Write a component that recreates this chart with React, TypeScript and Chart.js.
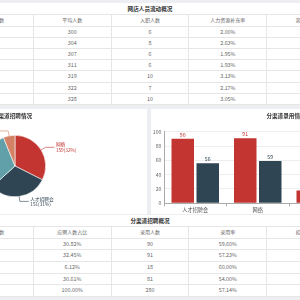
import React, { useEffect, useRef } from "react";
import { Chart, registerables } from "chart.js";

Chart.register(...registerables);

const FONT = '"Noto Sans CJK SC", "Noto Sans", sans-serif';

// ---- 网店人员流动概况 (top table) ----
const flowTitle = "网店人员流动概况";
const flowHeaders = ["月份", "期初人数", "平均人数", "入职人数", "人力资源补充率", "离职人数", "离职率"];
const flowMonths = ["1月", "2月", "3月", "4月", "5月", "6月", "7月"];
const flowStart = [297, 302, 305, 309, 314, 320, 324];
const flowAvg = [300, 304, 307, 311, 319, 322, 328];
const flowHires = [6, 8, 6, 6, 10, 7, 10];
const flowHireRate = ["2.00%", "2.63%", "1.95%", "1.93%", "3.13%", "2.17%", "3.05%"];
const flowLeaves = [4, 5, 3, 4, 5, 6, 4];
const flowLeaveRate = ["1.33%", "1.64%", "0.98%", "1.29%", "1.57%", "1.86%", "1.22%"];

// ---- 分渠道招聘概况 (bottom table) ----
const channelTitle = "分渠道招聘概况";
const channelHeaders = ["招聘渠道", "应聘人数", "应聘人数占比", "录用人数", "录用率", "招聘费用", "人均费用"];
const channelNames = ["人才招聘会", "网络", "校园招聘", "内部推荐", "合计"];
const channelApplicants = [151, 159, 30, 150, 490];
const channelShare = ["30.82%", "32.45%", "6.12%", "30.61%", "100.00%"];
const channelHired = [90, 91, 18, 81, 280];
const channelHireRate = ["59.60%", "57.23%", "60.00%", "54.00%", "57.14%"];
const channelCost = [56, 59, 10, 30, 155];
const channelCostPer = ["0.62", "0.65", "0.56", "0.37", "0.55"];

// ---- 分渠道招聘情况 (pie) ----
const pieTitle = "分渠道招聘情况";
const pieLabels = ["网络", "人才招聘会", "内部推荐", "校园招聘"];
const pieValues = [159, 151, 150, 30];

// ---- 分渠道录用情况 (bar) ----
const barTitle = "分渠道录用情况";
const barCategories = ["人才招聘会", "网络", "校园招聘", "内部推荐"];
const barSeriesNames = ["录用人数", "招聘费用"];
const barHired = [90, 91, 18, 81];
const barCost = [56, 59, 10, 30];
const yMax = 100;
const yStep = 20;

const palette = ["#c23531", "#2f4554", "#61a0a8", "#d48265"];
const BORDER = "#e6e6e6";

type TableProps = {
  title: string;
  headers: string[];
  rows: (string | number)[][];
  top: number;
  titleH: number;
  headH: number;
  rowH: number;
};

function DataTable({ title, headers, rows, top, titleH, headH, rowH }: TableProps) {
  const cell = (last: boolean, h: number, size: number, color: string): React.CSSProperties => ({
    flex: 1,
    height: h,
    lineHeight: h + "px",
    textAlign: "center",
    fontSize: size,
    color,
    borderRight: last ? "none" : `1px solid ${BORDER}`,
    boxSizing: "border-box",
    whiteSpace: "nowrap",
    overflow: "hidden",
  });
  return (
    <div style={{ position: "absolute", left: -122, top, width: 544, background: "#fff", fontFamily: FONT }}>
      <div
        style={{
          height: titleH,
          lineHeight: titleH + "px",
          textAlign: "center",
          fontWeight: "bold",
          fontSize: 5.6,
          color: "#333",
          borderBottom: `1px solid ${BORDER}`,
          boxSizing: "border-box",
        }}
      >
        {title}
      </div>
      <div style={{ display: "flex", borderBottom: `1px solid ${BORDER}`, boxSizing: "border-box", height: headH }}>
        {headers.map((h, i) => (
          <div key={i} style={cell(i === headers.length - 1, headH - 1, 5, "#666")}>
            {h}
          </div>
        ))}
      </div>
      {rows.map((r, ri) => (
        <div key={ri} style={{ display: "flex", borderBottom: `1px solid ${BORDER}`, boxSizing: "border-box", height: rowH }}>
          {r.map((v, i) => (
            <div key={i} style={cell(i === r.length - 1, rowH - 1, 5.4, "#666")}>
              {v}
            </div>
          ))}
        </div>
      ))}
    </div>
  );
}

const pieLabelPlugin = {
  id: "pieLabels",
  afterDatasetsDraw(chart: any) {
    const ctx = chart.ctx;
    const meta = chart.getDatasetMeta(0);
    const data = chart.data.datasets[0].data as number[];
    const total = data.reduce((a, b) => a + b, 0);
    meta.data.forEach((arc: any, i: number) => {
      const { x, y, startAngle, endAngle, outerRadius } = arc.getProps(
        ["x", "y", "startAngle", "endAngle", "outerRadius"],
        true
      );
      const mid = (startAngle + endAngle) / 2;
      const c = Math.cos(mid);
      const s = Math.sin(mid);
      const side = c >= 0 ? 1 : -1;
      const p1x = x + outerRadius * c;
      const p1y = y + outerRadius * s;
      const p2x = x + (outerRadius + 5) * c;
      const p2y = y + (outerRadius + 5) * s;
      const p3x = p2x + side * 9;
      const color = palette[i];
      ctx.save();
      ctx.strokeStyle = color;
      ctx.lineWidth = 0.6;
      ctx.beginPath();
      ctx.moveTo(p1x, p1y);
      ctx.lineTo(p2x, p2y);
      ctx.lineTo(p3x, p2y);
      ctx.stroke();
      ctx.fillStyle = color;
      ctx.font = `4.7px ${FONT}`;
      ctx.textAlign = side > 0 ? "left" : "right";
      ctx.textBaseline = "middle";
      const pct = Math.round((data[i] / total) * 100);
      const tx = p3x + side * 1.5;
      ctx.fillText(String(chart.data.labels[i]), tx, p2y - 2.6);
      ctx.fillText(`${data[i]}(${pct}%)`, tx, p2y + 2.6);
      ctx.restore();
    });
  },
};

const barValuePlugin = {
  id: "barValues",
  afterDatasetsDraw(chart: any) {
    const ctx = chart.ctx;
    chart.data.datasets.forEach((ds: any, di: number) => {
      const meta = chart.getDatasetMeta(di);
      meta.data.forEach((bar: any, i: number) => {
        ctx.save();
        ctx.fillStyle = palette[di];
        ctx.font = `5.2px ${FONT}`;
        ctx.textAlign = "center";
        ctx.textBaseline = "bottom";
        ctx.fillText(String(ds.data[i]), bar.x, bar.y - 1.5);
        ctx.restore();
      });
    });
  },
};

function PieChart() {
  const ref = useRef<HTMLCanvasElement>(null);
  useEffect(() => {
    const chart = new Chart(ref.current!, {
      type: "pie",
      data: {
        labels: pieLabels,
        datasets: [{ data: pieValues, backgroundColor: palette, borderColor: "#fff", borderWidth: 0.6 }],
      },
      options: {
        animation: false,
        responsive: false,
        layout: { padding: { left: 106, right: 101, top: 26, bottom: 17 } },
        plugins: { legend: { display: false }, tooltip: { enabled: false }, title: { display: false } },
      },
      plugins: [pieLabelPlugin],
    } as any);
    return () => chart.destroy();
  }, []);
  return <canvas ref={ref} width={269} height={105} style={{ position: "absolute", left: 0, top: 0 }} />;
}

function BarChart() {
  const ref = useRef<HTMLCanvasElement>(null);
  useEffect(() => {
    const font = { size: 5.2, family: FONT };
    const chart = new Chart(ref.current!, {
      type: "bar",
      data: {
        labels: barCategories,
        datasets: [
          { label: barSeriesNames[0], data: barHired, backgroundColor: palette[0] },
          { label: barSeriesNames[1], data: barCost, backgroundColor: palette[1] },
        ],
      },
      options: {
        animation: false,
        responsive: false,
        layout: { padding: { left: 0, right: 7, top: 22.7, bottom: 0 } },
        plugins: { legend: { display: false }, tooltip: { enabled: false }, title: { display: false } },
        scales: {
          x: {
            offset: true,
            grid: { offset: true, drawOnChartArea: false, drawTicks: true, tickLength: 3, color: "#aaa" },
            border: { display: true, color: "#aaa", width: 1 },
            ticks: { font, color: "#555", padding: 1, maxRotation: 0, autoSkip: false },
            afterFit: (s: any) => {
              s.height = 10.7;
            },
          },
          y: {
            min: 0,
            max: yMax,
            ticks: { stepSize: yStep, font, color: "#666", padding: 2.5 },
            grid: { color: "#eeeeee", drawTicks: false },
            border: { display: true, color: "#aaa", width: 1 },
            afterFit: (s: any) => {
              s.width = 13;
            },
          },
        },
      },
      plugins: [barValuePlugin],
    } as any);
    return () => chart.destroy();
  }, []);
  return <canvas ref={ref} width={270} height={105} style={{ position: "absolute", left: 0, top: 0 }} />;
}

function Panel({ left, width, title, children }: { left: number; width: number; title: string; children: React.ReactNode }) {
  return (
    <div style={{ position: "absolute", left, top: 109, width, height: 105, background: "#fff", overflow: "hidden", fontFamily: FONT }}>
      {children}
      <div
        style={{
          position: "absolute",
          left: 0,
          top: 0,
          width: "100%",
          height: 15,
          lineHeight: "15px",
          textAlign: "center",
          fontWeight: "bold",
          fontSize: 5.6,
          color: "#333",
        }}
      >
        {title}
      </div>
    </div>
  );
}

export default function App() {
  const flowRows = flowMonths.map((m, i) => [m, flowStart[i], flowAvg[i], flowHires[i], flowHireRate[i], flowLeaves[i], flowLeaveRate[i]]);
  const channelRows = channelNames.map((n, i) => [
    n,
    channelApplicants[i],
    channelShare[i],
    channelHired[i],
    channelHireRate[i],
    channelCost[i],
    channelCostPer[i],
  ]);
  return (
    <div style={{ position: "fixed", left: 0, top: 0, width: 300, height: 300, overflow: "hidden", background: "#eceef1" }}>
      <DataTable title={flowTitle} headers={flowHeaders} rows={flowRows} top={3} titleH={12} headH={11.7} rowH={11.2} />
      <Panel left={-122} width={269} title={pieTitle}>
        <PieChart />
      </Panel>
      <Panel left={151} width={270} title={barTitle}>
        <BarChart />
      </Panel>
      <DataTable title={channelTitle} headers={channelHeaders} rows={channelRows} top={215} titleH={12} headH={11.5} rowH={11.7} />
    </div>
  );
}
